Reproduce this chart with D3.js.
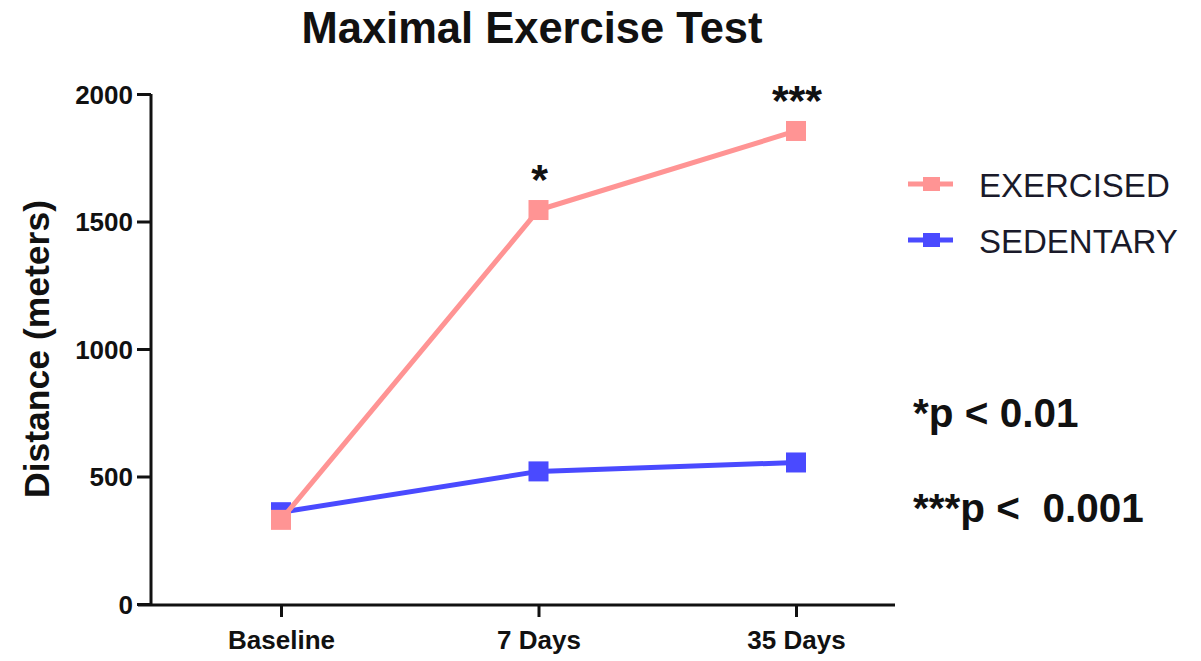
<!DOCTYPE html>
<html><head><meta charset="utf-8">
<script src="https://cdn.jsdelivr.net/npm/d3@7"></script>
<style>body{margin:0;background:#fff}svg{display:block}text{font-family:"Liberation Sans",Arial,sans-serif}</style>
</head><body>
<svg id="c" width="1201" height="661"></svg>
<script>
const categories = ["Baseline", "7 Days", "35 Days"];
const exercised = [330, 1545, 1855];
const sedentary = [360, 520, 555];
const yTicks = [0, 500, 1000, 1500, 2000];
const seriesNames = ["EXERCISED", "SEDENTARY"];
const sigMarks = ["", "*", "***"];
const notes = ["*p < 0.01", "***p <\u00a0 0.001"];

const svg = d3.select("#c");
const colors = ["#FF9494", "#4A4AFF"];
const x = d3.scalePoint().domain(categories).range([281, 796]);
const y = d3.scaleLinear().domain([0, 2000]).range([604, 94]);

// title
svg.append("text").attr("x", 532).attr("y", 43).attr("text-anchor", "middle")
  .attr("font-size", 43.5).attr("font-weight", "bold").attr("fill", "#111").text("Maximal Exercise Test");

// y axis
const ya = svg.append("g").attr("transform", "translate(151,0)")
  .call(d3.axisLeft(y).tickValues(yTicks).tickSize(14).tickPadding(4).tickFormat(d3.format("d")));
ya.select(".domain").attr("d", `M0,${y(2000)}V${y(0)}`);
// x axis
const xa = svg.append("g").attr("transform", `translate(0,${y(0)+1})`)
  .call(d3.axisBottom(x).tickSize(12).tickPadding(10));
xa.select(".domain").attr("d", "M138,0H895");
[ya, xa].forEach(g => {
  g.selectAll("path,line").attr("stroke", "#111").attr("stroke-width", 3);
  g.selectAll("text").attr("font-size", 26).attr("font-weight", "bold").attr("fill", "#111")
    .attr("font-family", "'Liberation Sans',Arial,sans-serif");
});
xa.selectAll("text").attr("dy", "0.85em");
ya.selectAll("text").attr("dy", "0.36em");

// y label
svg.append("text").attr("transform", "translate(49,349) rotate(-90)").attr("text-anchor", "middle")
  .attr("font-size", 35.5).attr("font-weight", "bold").attr("fill", "#111").text("Distance (meters)");

const line = d3.line().x((d, i) => x(categories[i])).y(d => y(d));
const data = [exercised, sedentary];
// draw sedentary first
[1, 0].forEach(k => {
  const g = svg.append("g");
  g.append("path").datum(data[k]).attr("d", line).attr("fill", "none")
    .attr("stroke", colors[k]).attr("stroke-width", 5);
  g.selectAll("rect").data(data[k]).join("rect")
    .attr("x", (d, i) => x(categories[i]) - 10).attr("y", d => y(d) - 10)
    .attr("width", 20).attr("height", 20).attr("fill", colors[k]);
});

// significance marks
svg.selectAll("text.sig").data(sigMarks).join("text").attr("class", "sig")
  .attr("x", (d, i) => x(categories[i]) + 1)
  .attr("y", (d, i) => y(exercised[i]) - 16)
  .attr("text-anchor", "middle").attr("font-size", 43).attr("font-weight", "bold")
  .attr("fill", "#111").text(d => d);

// legend
seriesNames.forEach((n, k) => {
  const ly = 184 + k * 56;
  svg.append("line").attr("x1", 908).attr("x2", 953).attr("y1", ly).attr("y2", ly)
    .attr("stroke", colors[k]).attr("stroke-width", 5);
  svg.append("rect").attr("x", 923).attr("y", ly - 7).attr("width", 17).attr("height", 14).attr("fill", colors[k]);
  svg.append("text").attr("x", 979).attr("y", ly + 13).attr("font-size", 33)
    .attr("fill", "#1a1a2a").text(n);
});

// notes
notes.forEach((t, k) => {
  svg.append("text").attr("x", 913).attr("y", 427 + k * 95).attr("font-size", 40.5)
    .attr("font-weight", "bold").attr("fill", "#111").text(t);
});
</script>
</body></html>
